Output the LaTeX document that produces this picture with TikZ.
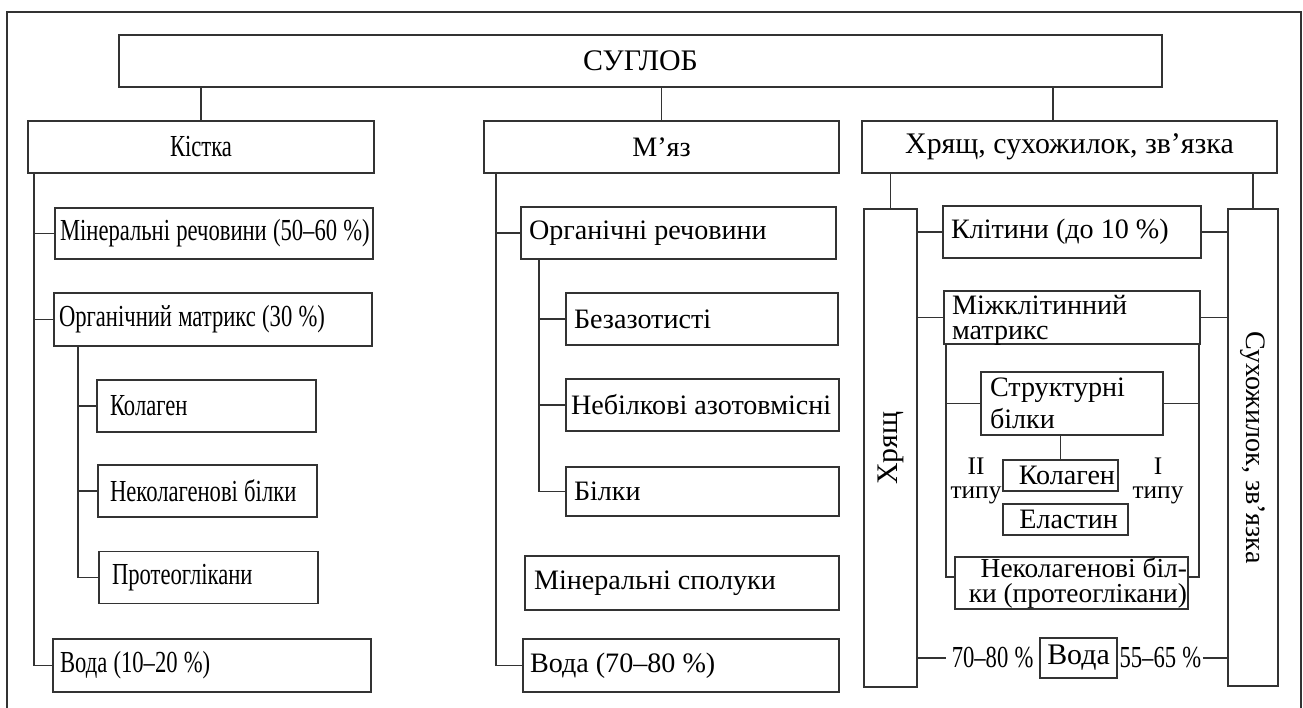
\documentclass[tikz,border=0pt]{standalone}
\usepackage{fontspec}
\setmainfont{Liberation Serif}
\newfontfamily\condfont{Liberation Serif}[FakeStretch=0.74, WordSpace=1.1]
\usepackage{graphicx}
\usetikzlibrary{positioning}

\begin{document}
\begin{tikzpicture}[
          blk/.style={draw=black!80, line width=0.5pt, inner sep=0pt, minimum height=0.52cm,
                      font=\fontsize{8}{9}\selectfont},
          lblk/.style={blk, align=flush left, inner xsep=0.08cm},
          rblk/.style={blk, align=flush right},
          cblk/.style={lblk, inner xsep=0.05cm, font=\condfont\fontsize{8.7}{9}\selectfont},
          lbl/.style={inner sep=0pt, align=center, font=\fontsize{7.2}{6.6}\selectfont},
          ln/.style={black!80, line width=0.45pt}]
        \useasboundingbox (0,0) rectangle (13.03,7.08);
        \draw[ln, line width=0.5pt] (0.07,0) |- (13.01,6.96) -- (13.01,0);
        \node[blk, minimum width=10.43cm, font=\fontsize{8.5}{9}\selectfont] (top) at (6.405,6.47) {СУГЛОБ};
        \node[blk, minimum width=3.46cm, font=\condfont\fontsize{8.7}{9}\selectfont] (bone) at (2.01,5.61) {Кістка};
        \node[blk, minimum width=3.55cm] (muscle) at (6.615,5.61) {М’яз};
        \node[blk, minimum width=4.15cm, font=\fontsize{8.5}{9}\selectfont] (cart) at (10.695,5.61) {Хрящ, сухожилок, зв’язка};
        \coordinate (jc) at (10.53,0);
        \draw[ln] (top.south -| bone) -- (bone.north);
        \draw[ln] (top.south -| muscle) -- (muscle.north);
        \draw[ln] (top.south -| jc) -- (cart.north -| jc);
        % bone
        \node[cblk, inner xsep=0.01cm, text width=3.16cm, minimum height=0.51cm] (min) at (2.14,4.745) {\hspace*{0.04cm}Мінеральні речовини (50–60~\%)};
        \node[cblk, text width=3.08cm, minimum height=0.53cm] (org) at (2.13,3.885) {Органічний матрикс (30~\%)};
        \node[cblk, inner xsep=0.13cm, text width=1.93cm] (col) at (2.065,3.02) {Колаген};
        \node[cblk, inner xsep=0.12cm, text width=1.95cm] (ncp) at (2.075,2.17) {Неколагенові білки};
        \node[cblk, inner xsep=0.13cm, text width=1.93cm] (ptg) at (2.085,1.305) {Протеоглікани};
        \node[cblk, inner xsep=0.07cm, text width=3.04cm, minimum height=0.53cm] (water1) at (2.12,0.425) {Вода (10–20~\%)};
        \coordinate (bx) at (0.34,0); \coordinate (ox) at (0.78,0);
        \draw[ln] (bone.south -| bx) |- (water1.west);
        \foreach \n in {min,org} {\draw[ln] (bx |- \n.west) -- (\n.west);}
        \draw[ln] (org.south -| ox) |- (ptg.west);
        \foreach \n in {col,ncp} {\draw[ln] (ox |- \n.west) -- (\n.west);}
        % muscle
        \node[lblk, text width=2.99cm] (morg) at (6.785,4.75) {Органічні речовини};
        \node[lblk, text width=2.56cm] (nfree) at (7.02,3.89) {Безазотисті};
        \node[lblk, inner xsep=0.05cm, text width=2.63cm] (nonprot) at (7.025,3.03) {Небілкові азотовмісні};
        \node[lblk, text width=2.57cm, minimum height=0.49cm] (prot) at (7.025,2.165) {Білки};
        \node[lblk, inner xsep=0.09cm, text width=2.96cm, minimum height=0.54cm] (mmin) at (6.82,1.25) {Мінеральні сполуки};
        \node[lblk, inner xsep=0.07cm, text width=3.02cm, minimum height=0.53cm] (water2) at (6.81,0.425) {Вода (70–80~\%)};
        \coordinate (mx) at (4.96,0); \coordinate (ms) at (5.39,0);
        \draw[ln] (muscle.south -| mx) |- (water2.west);
        \draw[ln] (mx |- morg.west) -- (morg.west);
        \draw[ln] (morg.south -| ms) |- (prot.west);
        \foreach \n in {nfree,nonprot} {\draw[ln] (ms |- \n.west) -- (\n.west);}
        % cartilage, tendon, ligament
        \node[blk, minimum width=0.53cm, minimum height=4.78cm, font=\fontsize{8.5}{9}\selectfont] (hry) at (8.905,2.60) {\rotatebox{90}{Хрящ}};
        \node[blk, minimum width=0.50cm, minimum height=4.77cm] (tend) at (12.53,2.605) {\rotatebox{-90}{Сухожилок, зв’язка}};
        \draw[ln] (cart.south -| hry) -- (hry.north);
        \draw[ln] (cart.south -| tend) -- (tend.north);
        \node[lblk, text width=2.42cm] (cells) at (10.72,4.76) {Клітини (до 10~\%)};
        \node[lblk, text width=2.40cm, minimum height=0.53cm, text depth=7.2pt, font=\fontsize{8}{7.2}\selectfont] (matrix) at (10.72,3.905) {Міжклітинний\\матрикс};
        \foreach \n in {cells,matrix} {\draw[ln] (\n.west) -- (\n.west -| hry.east); \draw[ln] (\n.east) -- (\n.east -| tend.west);}
        \node[lblk, inner xsep=0.09cm, text width=1.64cm, minimum height=0.63cm] (struct) at (10.72,3.045) {Структурні\\білки};
        \node[rblk, inner xsep=0.03cm, text width=1.09cm, minimum height=0.31cm] (col2) at (10.605,2.325) {Колаген};
        \node[rblk, inner xsep=0.10cm, text width=1.05cm, minimum height=0.31cm] (elast) at (10.655,1.885) {Еластин};
        \node[lbl] (t2) at (9.76,2.27) {II\\типу};
        \node[lbl] (t1) at (11.58,2.27) {I\\типу};
        \node[rblk, inner xsep=0.01cm, text width=2.31cm, font=\fontsize{7.8}{7}\selectfont] (ncp2) at (10.715,1.25) {Неколагенові біл-\\ки (протеоглікани)};
        \coordinate (il) at (9.46,0); \coordinate (ir) at (11.99,0);
        \draw[ln] (matrix.south -| il) |- ([yshift=0.06cm]ncp2.west);
        \draw[ln] (matrix.south -| ir) |- ([yshift=0.06cm]ncp2.east);
        \draw[ln] (struct.west) -- (struct.west -| il);
        \draw[ln] (struct.east) -- (struct.east -| ir);
        \draw[ln] (col2.north) -- (col2.north |- struct.south);
        \node[blk, minimum width=0.77cm, minimum height=0.40cm, font=\fontsize{8.5}{10}\selectfont] (water3) at (10.785,0.50) {Вода};
        \node[inner xsep=0.05cm, inner ysep=0pt, left=0cm of water3, font=\condfont\fontsize{8.7}{9}\selectfont] (p70) {70–80~\%};
        \node[inner xsep=0.01cm, inner ysep=0pt, right=0cm of water3, font=\condfont\fontsize{8.7}{9}\selectfont] (p55) {55–65~\%};
        \draw[ln] (hry.east |- water3) -- (p70.west);
        \draw[ln] (p55.east) -- (tend.west |- water3);
      \end{tikzpicture}
\end{document}
